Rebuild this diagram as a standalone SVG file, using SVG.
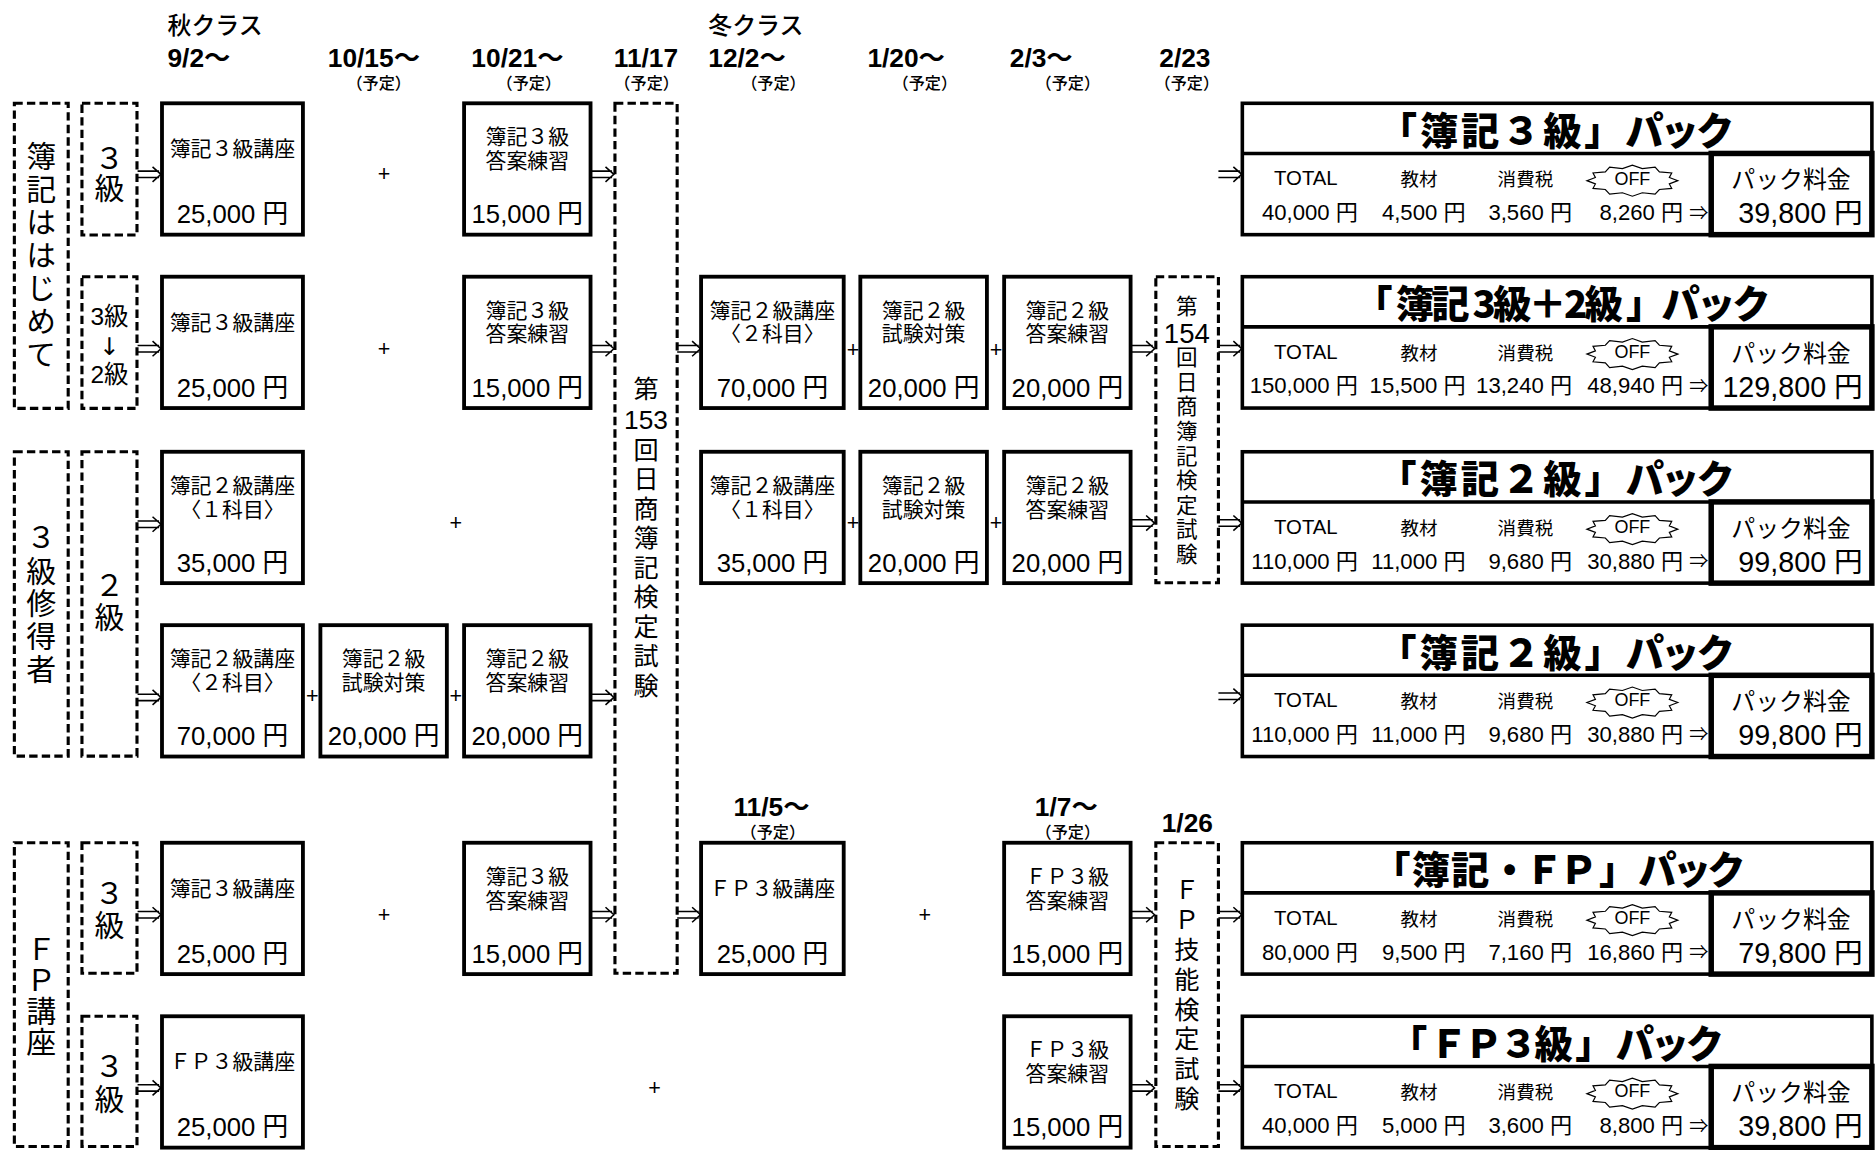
<svg xmlns="http://www.w3.org/2000/svg" width="1876" height="1150" viewBox="0 0 1876 1150">
<style>
text{fill:#000}
.j{font-family:"Noto Sans CJK JP",sans-serif}
.l{font-family:"Liberation Sans","Noto Sans CJK JP",sans-serif}
.dv{font-family:"DejaVu Sans","Noto Sans CJK JP",sans-serif}
.c{text-anchor:middle;dominant-baseline:central}
.vr{writing-mode:vertical-rl;text-anchor:start}
.b{fill:#fff;stroke:#000;stroke-width:3.2}
.d{fill:#fff;stroke:#000;stroke-width:2.6;stroke-dasharray:7 3.5}
.pk{fill:#fff;stroke:#000;stroke-width:3}
.pr{fill:none;stroke:#000;stroke-width:4.6}
.sep{stroke:#000;stroke-width:3}
.nm{font-size:17.5px}
.nv{font-size:21.5px}
.vt{font-size:25px}
.v2{font-size:20.5px}
.ex{font-size:21px}
.ex2{font-size:18px}
.hd{font-size:20px;font-weight:500;dominant-baseline:central}
.dt{font-size:22px;font-weight:bold}
.yt{font-size:13.5px;font-weight:500}
.pl{font-size:18px}
.ttl{font-size:32px;font-weight:900}
.lb{font-size:15.5px}
.tt{font-size:17px}
.val{font-size:18.5px;text-anchor:end;dominant-baseline:central}
.ar2{font-size:16px}
.pm{font-size:20px}
.pv{font-size:24px;text-anchor:end;dominant-baseline:central}
.off{font-size:15px}
.ar{fill:none;stroke:#000;stroke-width:1.3}
.st{fill:#fff;stroke:#000;stroke-width:1}
</style>
<defs>
<path id="dbl" class="ar" d="M0,-2.7H18 M0,2.7H18 M12.5,-6.3L19.5,0L12.5,6.3"/>
<path id="star" class="st" d="M38,0 L30.9,2.7 L32.9,6.5 L22.6,7.4 L19,11.3 L8.3,10.1 L0,13 L-8.3,10.1 L-19,11.3 L-22.6,7.4 L-32.9,6.5 L-30.9,2.7 L-38,0 L-30.9,-2.7 L-32.9,-6.5 L-22.6,-7.4 L-19,-11.3 L-8.3,-10.1 L0,-13 L8.3,-10.1 L19,-11.3 L22.6,-7.4 L32.9,-6.5 L30.9,-2.7Z"/>
</defs>
<rect width="1876" height="1150" fill="#fff"/>
<g transform="scale(1.1964,1.1942)">

<g id="header">
<text class="j hd" x="140" y="20">秋クラス</text>
<text class="j hd" x="592" y="20">冬クラス</text>
<text class="l dt" x="140" y="56">9/2〜</text>
<text class="l dt" x="274" y="56">10/15〜</text>
<text class="l dt" x="394" y="56">10/21〜</text>
<text class="l dt" x="513" y="56">11/17</text>
<text class="l dt" x="592" y="56">12/2〜</text>
<text class="l dt" x="725" y="56">1/20〜</text>
<text class="l dt" x="844" y="56">2/3〜</text>
<text class="l dt" x="969" y="56">2/23</text>
<text class="j c yt" x="316.5" y="69">（予定）</text>
<text class="j c yt" x="442" y="69">（予定）</text>
<text class="j c yt" x="540.5" y="69">（予定）</text>
<text class="j c yt" x="646.5" y="69">（予定）</text>
<text class="j c yt" x="773" y="69">（予定）</text>
<text class="j c yt" x="892.5" y="69">（予定）</text>
<text class="j c yt" x="992" y="69">（予定）</text>
<text class="l dt" x="613" y="683">11/5〜</text>
<text class="j c yt" x="646" y="696">（予定）</text>
<text class="l dt" x="865" y="683">1/7〜</text>
<text class="j c yt" x="892.5" y="696">（予定）</text>
<text class="l dt" x="971" y="697">1/26</text>
</g>

<g id="cat-boki-beginner">
<rect class="d" x="12" y="86.5" width="45" height="255.5"/>
<text class="j vr vt" x="34.5" y="117.5" letter-spacing="2.7">簿記ははじめて</text>
</g>
<g id="cat-3kyu-holder">
<rect class="d" x="12" y="378.3" width="45" height="254.9"/>
<text class="j vr vt" x="34.5" y="437.5" letter-spacing="2.5">３級修得者</text>
</g>
<g id="cat-fp">
<rect class="d" x="12" y="705.7" width="45" height="254.3"/>
<text class="j vr vt" x="34.5" y="782.5" letter-spacing="0.7">ＦＰ講座</text>
</g>
<g id="lvl-r1">
<rect class="d" x="68.5" y="86.5" width="46" height="110.3"/>
<text class="j vr vt" x="91.5" y="119.5">３級</text>
</g>
<g id="lvl-r2">
<rect class="d" x="68.5" y="231.7" width="46" height="110.3"/>
<text class="l c v2" x="91.5" y="265">3級</text>
<text class="dv c v2" x="91.5" y="290">↓</text>
<text class="l c v2" x="91.5" y="314">2級</text>
</g>
<g id="lvl-r3">
<rect class="d" x="68.5" y="378.3" width="46" height="254.9"/>
<text class="j vr vt" x="91.5" y="477.5" letter-spacing="1">２級</text>
</g>
<g id="lvl-r5">
<rect class="d" x="68.5" y="705.7" width="46" height="109.3"/>
<text class="j vr vt" x="91.5" y="735.5" letter-spacing="1">３級</text>
</g>
<g id="lvl-r6">
<rect class="d" x="68.5" y="851" width="46" height="109"/>
<text class="j vr vt" x="91.5" y="880.5" letter-spacing="2">３級</text>
</g>

<g id="exam-153">
<rect class="d" x="514" y="86.5" width="52" height="728.5"/>
<text class="j vr ex" x="540" y="314.5">第</text>
<text class="l c" x="540" y="352" style="font-size:22px">153</text>
<text class="j vr ex" x="540" y="365.5" letter-spacing="3.75">回日商簿記検定試験</text>
</g>
<g id="exam-154">
<rect class="d" x="966.1" y="231.7" width="52.3" height="256.3"/>
<text class="j vr ex2" x="992" y="247">第</text>
<text class="l c" x="992" y="279.5" style="font-size:23px">154</text>
<text class="j vr ex2" x="992" y="290" letter-spacing="2.6">回日商簿記検定試験</text>
</g>
<g id="exam-fp">
<rect class="d" x="966.1" y="705.7" width="52.3" height="254.3"/>
<text class="j vr ex" x="992" y="734.5" letter-spacing="4">ＦＰ技能検定試験</text>
</g>

<g id="a1"><rect class="b" x="135.4" y="86.5" width="117.8" height="110"/><text class="j c nm" x="194.3" y="123.5">簿記３級講座</text><text class="l c nv" x="194.3" y="179.5">25,000 円</text></g>
<g id="c1"><rect class="b" x="387.9" y="86.5" width="105.7" height="110"/><text class="l c nm" x="440.75" y="114.5">簿記３級</text><text class="l c nm" x="440.75" y="134.5">答案練習</text><text class="l c nv" x="440.75" y="179.5">15,000 円</text></g>

<g id="a2"><rect class="b" x="135.4" y="231.7" width="117.8" height="110"/><text class="j c nm" x="194.3" y="268.7">簿記３級講座</text><text class="l c nv" x="194.3" y="324.7">25,000 円</text></g>
<g id="c2"><rect class="b" x="387.9" y="231.7" width="105.7" height="110"/><text class="l c nm" x="440.75" y="259.7">簿記３級</text><text class="l c nm" x="440.75" y="279.7">答案練習</text><text class="l c nv" x="440.75" y="324.7">15,000 円</text></g>
<g id="d2"><rect class="b" x="586" y="231.7" width="119.2" height="110"/><text class="l c nm" x="645.6" y="259.7">簿記２級講座</text><text class="l c nm" x="645.6" y="279.7">〈２科目〉</text><text class="l c nv" x="645.6" y="324.7">70,000 円</text></g>
<g id="e2"><rect class="b" x="719.1" y="231.7" width="105.8" height="110"/><text class="l c nm" x="772" y="259.7">簿記２級</text><text class="l c nm" x="772" y="279.7">試験対策</text><text class="l c nv" x="772" y="324.7">20,000 円</text></g>
<g id="f2"><rect class="b" x="839.3" y="231.7" width="105.7" height="110"/><text class="l c nm" x="892.15" y="259.7">簿記２級</text><text class="l c nm" x="892.15" y="279.7">答案練習</text><text class="l c nv" x="892.15" y="324.7">20,000 円</text></g>

<g id="a3"><rect class="b" x="135.4" y="378.3" width="117.8" height="110"/><text class="l c nm" x="194.3" y="406.3">簿記２級講座</text><text class="l c nm" x="194.3" y="426.3">〈１科目〉</text><text class="l c nv" x="194.3" y="471.3">35,000 円</text></g>
<g id="d3"><rect class="b" x="586" y="378.3" width="119.2" height="110"/><text class="l c nm" x="645.6" y="406.3">簿記２級講座</text><text class="l c nm" x="645.6" y="426.3">〈１科目〉</text><text class="l c nv" x="645.6" y="471.3">35,000 円</text></g>
<g id="e3"><rect class="b" x="719.1" y="378.3" width="105.8" height="110"/><text class="l c nm" x="772" y="406.3">簿記２級</text><text class="l c nm" x="772" y="426.3">試験対策</text><text class="l c nv" x="772" y="471.3">20,000 円</text></g>
<g id="f3"><rect class="b" x="839.3" y="378.3" width="105.7" height="110"/><text class="l c nm" x="892.15" y="406.3">簿記２級</text><text class="l c nm" x="892.15" y="426.3">答案練習</text><text class="l c nv" x="892.15" y="471.3">20,000 円</text></g>

<g id="a4"><rect class="b" x="135.4" y="523.5" width="117.8" height="110"/><text class="l c nm" x="194.3" y="551.5">簿記２級講座</text><text class="l c nm" x="194.3" y="571.5">〈２科目〉</text><text class="l c nv" x="194.3" y="616.5">70,000 円</text></g>
<g id="b4"><rect class="b" x="267.8" y="523.5" width="105.7" height="110"/><text class="l c nm" x="320.65" y="551.5">簿記２級</text><text class="l c nm" x="320.65" y="571.5">試験対策</text><text class="l c nv" x="320.65" y="616.5">20,000 円</text></g>
<g id="c4"><rect class="b" x="387.9" y="523.5" width="105.7" height="110"/><text class="l c nm" x="440.75" y="551.5">簿記２級</text><text class="l c nm" x="440.75" y="571.5">答案練習</text><text class="l c nv" x="440.75" y="616.5">20,000 円</text></g>

<g id="a5"><rect class="b" x="135.4" y="705.7" width="117.8" height="110"/><text class="j c nm" x="194.3" y="742.7">簿記３級講座</text><text class="l c nv" x="194.3" y="798.7">25,000 円</text></g>
<g id="c5"><rect class="b" x="387.9" y="705.7" width="105.7" height="110"/><text class="l c nm" x="440.75" y="733.7">簿記３級</text><text class="l c nm" x="440.75" y="753.7">答案練習</text><text class="l c nv" x="440.75" y="798.7">15,000 円</text></g>
<g id="d5"><rect class="b" x="586" y="705.7" width="119.2" height="110"/><text class="j c nm" x="645.6" y="742.7">ＦＰ３級講座</text><text class="l c nv" x="645.6" y="798.7">25,000 円</text></g>
<g id="f5"><rect class="b" x="839.3" y="705.7" width="105.7" height="110"/><text class="l c nm" x="892.15" y="733.7">ＦＰ３級</text><text class="l c nm" x="892.15" y="753.7">答案練習</text><text class="l c nv" x="892.15" y="798.7">15,000 円</text></g>

<g id="a6"><rect class="b" x="135.4" y="851" width="117.8" height="110"/><text class="j c nm" x="194.3" y="888">ＦＰ３級講座</text><text class="l c nv" x="194.3" y="944">25,000 円</text></g>
<g id="f6"><rect class="b" x="839.3" y="851" width="105.7" height="110"/><text class="l c nm" x="892.15" y="879">ＦＰ３級</text><text class="l c nm" x="892.15" y="899">答案練習</text><text class="l c nv" x="892.15" y="944">15,000 円</text></g>

<g id="pack1">
<rect class="pk" x="1038.4" y="86.5" width="526.2" height="110"/>
<line class="sep" x1="1038.4" y1="128.5" x2="1564.6" y2="128.5"/>
<rect class="pr" x="1430.3" y="128.5" width="134.3" height="68"/>
<text class="j c ttl" x="1301" y="107.5" textLength="297" lengthAdjust="spacing">「 簿 記 ３ 級 」 パック</text>
<text class="l c tt" x="1091.5" y="149.3">TOTAL</text>
<text class="j c lb" x="1186" y="149.3">教材</text>
<text class="j c lb" x="1275" y="149.3">消費税</text>
<use href="#star" x="1364.4" y="151.3"/>
<text class="l c off" x="1364.4" y="149.5">OFF</text>
<text class="l val" x="1135" y="178">40,000 円</text>
<text class="l val" x="1225" y="178">4,500 円</text>
<text class="l val" x="1314" y="178">3,560 円</text>
<text class="l val" x="1428" y="178">8,260 円 <tspan class="ar2">⇒</tspan></text>
<text class="j c pm" x="1497" y="149">パック料金</text>
<text class="l pv" x="1557" y="178.5">39,800 円</text>
</g>
<g id="pack2">
<rect class="pk" x="1038.4" y="231.7" width="526.2" height="110"/>
<line class="sep" x1="1038.4" y1="273.7" x2="1564.6" y2="273.7"/>
<rect class="pr" x="1430.3" y="273.7" width="134.3" height="68"/>
<text class="j c ttl" x="1306" y="252.7" textLength="348" lengthAdjust="spacing">「 簿記 3級＋2級 」パック</text>
<text class="l c tt" x="1091.5" y="294.5">TOTAL</text>
<text class="j c lb" x="1186" y="294.5">教材</text>
<text class="j c lb" x="1275" y="294.5">消費税</text>
<use href="#star" x="1364.4" y="296.5"/>
<text class="l c off" x="1364.4" y="294.7">OFF</text>
<text class="l val" x="1135" y="323.2">150,000 円</text>
<text class="l val" x="1225" y="323.2">15,500 円</text>
<text class="l val" x="1314" y="323.2">13,240 円</text>
<text class="l val" x="1428" y="323.2">48,940 円 <tspan class="ar2">⇒</tspan></text>
<text class="j c pm" x="1497" y="294.2">パック料金</text>
<text class="l pv" x="1557" y="323.7">129,800 円</text>
</g>
<g id="pack3">
<rect class="pk" x="1038.4" y="378.3" width="526.2" height="110"/>
<line class="sep" x1="1038.4" y1="420.3" x2="1564.6" y2="420.3"/>
<rect class="pr" x="1430.3" y="420.3" width="134.3" height="68"/>
<text class="j c ttl" x="1301" y="399.3" textLength="298" lengthAdjust="spacing">「 簿 記 ２ 級 」 パック</text>
<text class="l c tt" x="1091.5" y="441.1">TOTAL</text>
<text class="j c lb" x="1186" y="441.1">教材</text>
<text class="j c lb" x="1275" y="441.1">消費税</text>
<use href="#star" x="1364.4" y="443.1"/>
<text class="l c off" x="1364.4" y="441.3">OFF</text>
<text class="l val" x="1135" y="469.8">110,000 円</text>
<text class="l val" x="1225" y="469.8">11,000 円</text>
<text class="l val" x="1314" y="469.8">9,680 円</text>
<text class="l val" x="1428" y="469.8">30,880 円 <tspan class="ar2">⇒</tspan></text>
<text class="j c pm" x="1497" y="440.8">パック料金</text>
<text class="l pv" x="1557" y="470.3">99,800 円</text>
</g>
<g id="pack4">
<rect class="pk" x="1038.4" y="523.5" width="526.2" height="110"/>
<line class="sep" x1="1038.4" y1="565.5" x2="1564.6" y2="565.5"/>
<rect class="pr" x="1430.3" y="565.5" width="134.3" height="68"/>
<text class="j c ttl" x="1301" y="544.5" textLength="298" lengthAdjust="spacing">「 簿 記 ２ 級 」 パック</text>
<text class="l c tt" x="1091.5" y="586.3">TOTAL</text>
<text class="j c lb" x="1186" y="586.3">教材</text>
<text class="j c lb" x="1275" y="586.3">消費税</text>
<use href="#star" x="1364.4" y="588.3"/>
<text class="l c off" x="1364.4" y="586.5">OFF</text>
<text class="l val" x="1135" y="615">110,000 円</text>
<text class="l val" x="1225" y="615">11,000 円</text>
<text class="l val" x="1314" y="615">9,680 円</text>
<text class="l val" x="1428" y="615">30,880 円 <tspan class="ar2">⇒</tspan></text>
<text class="j c pm" x="1497" y="586">パック料金</text>
<text class="l pv" x="1557" y="615.5">99,800 円</text>
</g>
<g id="pack5">
<rect class="pk" x="1038.4" y="705.7" width="526.2" height="110"/>
<line class="sep" x1="1038.4" y1="747.7" x2="1564.6" y2="747.7"/>
<rect class="pr" x="1430.3" y="747.7" width="134.3" height="68"/>
<text class="j c ttl" x="1303" y="726.7" textLength="312" lengthAdjust="spacing">「 簿 記 ・ＦＰ 」 パック</text>
<text class="l c tt" x="1091.5" y="768.5">TOTAL</text>
<text class="j c lb" x="1186" y="768.5">教材</text>
<text class="j c lb" x="1275" y="768.5">消費税</text>
<use href="#star" x="1364.4" y="770.5"/>
<text class="l c off" x="1364.4" y="768.7">OFF</text>
<text class="l val" x="1135" y="797.2">80,000 円</text>
<text class="l val" x="1225" y="797.2">9,500 円</text>
<text class="l val" x="1314" y="797.2">7,160 円</text>
<text class="l val" x="1428" y="797.2">16,860 円 <tspan class="ar2">⇒</tspan></text>
<text class="j c pm" x="1497" y="768.2">パック料金</text>
<text class="l pv" x="1557" y="797.7">79,800 円</text>
</g>
<g id="pack6">
<rect class="pk" x="1038.4" y="851" width="526.2" height="110"/>
<line class="sep" x1="1038.4" y1="893" x2="1564.6" y2="893"/>
<rect class="pr" x="1430.3" y="893" width="134.3" height="68"/>
<text class="j c ttl" x="1301" y="872" textLength="280" lengthAdjust="spacing">「 ＦＰ３級 」 パック</text>
<text class="l c tt" x="1091.5" y="913.8">TOTAL</text>
<text class="j c lb" x="1186" y="913.8">教材</text>
<text class="j c lb" x="1275" y="913.8">消費税</text>
<use href="#star" x="1364.4" y="915.8"/>
<text class="l c off" x="1364.4" y="914">OFF</text>
<text class="l val" x="1135" y="942.5">40,000 円</text>
<text class="l val" x="1225" y="942.5">5,000 円</text>
<text class="l val" x="1314" y="942.5">3,600 円</text>
<text class="l val" x="1428" y="942.5">8,800 円 <tspan class="ar2">⇒</tspan></text>
<text class="j c pm" x="1497" y="913.5">パック料金</text>
<text class="l pv" x="1557" y="943">39,800 円</text>
</g>

<g id="connectors">
<use href="#dbl" x="115" y="146"/>
<use href="#dbl" x="493.6" y="146"/>
<use href="#dbl" x="1018.4" y="146"/>
<use href="#dbl" x="115" y="292"/>
<use href="#dbl" x="493.6" y="292"/>
<use href="#dbl" x="566" y="292"/>
<use href="#dbl" x="945.5" y="292"/>
<use href="#dbl" x="1018.4" y="292"/>
<use href="#dbl" x="115" y="439"/>
<use href="#dbl" x="945.5" y="438"/>
<use href="#dbl" x="1018.4" y="438"/>
<use href="#dbl" x="115" y="584"/>
<use href="#dbl" x="493.6" y="584"/>
<use href="#dbl" x="1018.4" y="583"/>
<use href="#dbl" x="115" y="766"/>
<use href="#dbl" x="493.6" y="766"/>
<use href="#dbl" x="566" y="766"/>
<use href="#dbl" x="945.5" y="766"/>
<use href="#dbl" x="1018.4" y="766"/>
<use href="#dbl" x="115" y="911"/>
<use href="#dbl" x="945.5" y="911"/>
<use href="#dbl" x="1018.4" y="911"/>
</g>

<g id="plus-signs">
<text class="l c pl" x="321" y="146">+</text>
<text class="l c pl" x="321" y="292">+</text>
<text class="l c pl" x="713" y="293">+</text>
<text class="l c pl" x="832.6" y="293">+</text>
<text class="l c pl" x="381" y="438">+</text>
<text class="l c pl" x="713" y="438">+</text>
<text class="l c pl" x="832.6" y="438">+</text>
<text class="l c pl" x="261" y="583">+</text>
<text class="l c pl" x="381" y="583">+</text>
<text class="l c pl" x="321" y="766">+</text>
<text class="l c pl" x="773" y="766">+</text>
<text class="l c pl" x="547" y="911">+</text>
</g>

</g>
</svg>
